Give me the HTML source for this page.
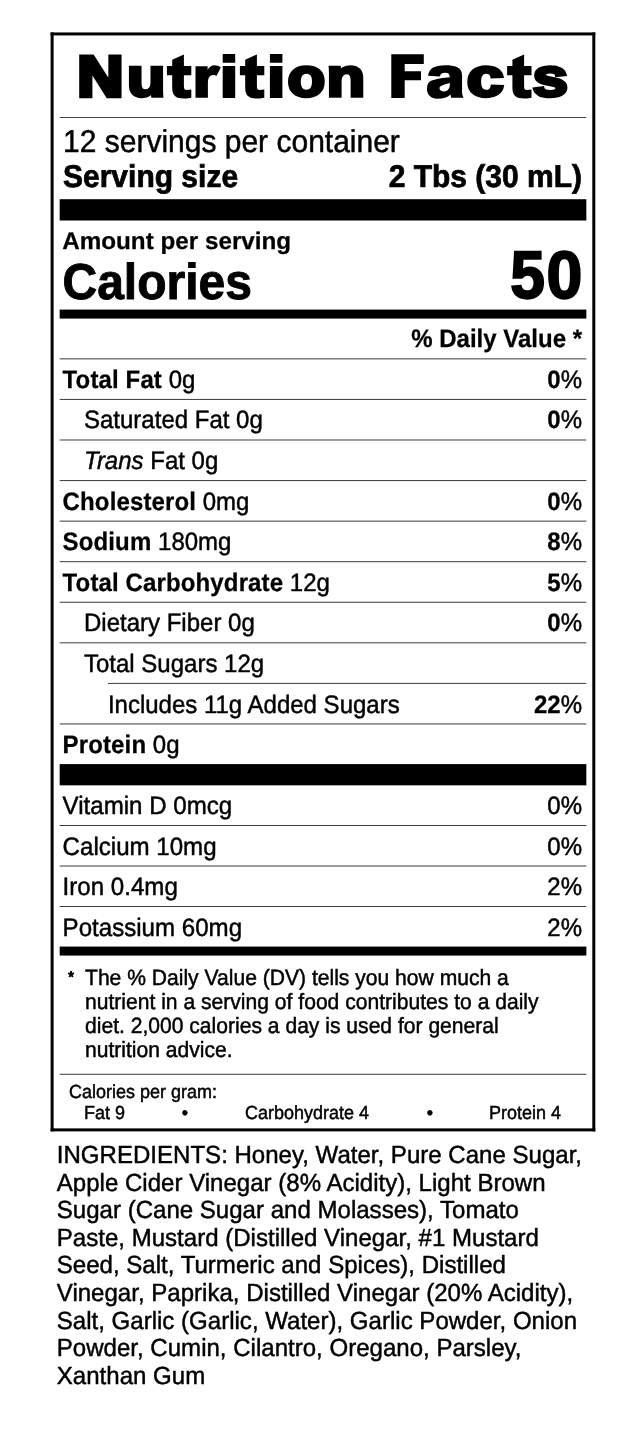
<!DOCTYPE html>
<html><head><meta charset="utf-8"><style>
html,body{margin:0;padding:0;background:#fff;width:638px;height:1448px;overflow:hidden}
svg{display:block;will-change:transform}
text{font-family:"Liberation Sans",sans-serif;fill:#000;text-rendering:geometricPrecision}
.b{stroke:#000;stroke-width:0.45px}
.b[font-weight=bold],.b tspan[font-weight=bold]{stroke-width:0.25px}
.title{stroke:#000;stroke-width:3.4px;stroke-linejoin:miter}
</style></head><body>
<svg width="638" height="1448" viewBox="0 0 638 1448">
<rect x="50.6" y="32.44" width="544.6999999999999" height="3" fill="#000"/>
<rect x="50.6" y="1128.38" width="544.6999999999999" height="3" fill="#000"/>
<rect x="50.6" y="32.44" width="3" height="1098.94" fill="#000"/>
<rect x="592.3" y="32.44" width="3" height="1098.94" fill="#000"/>
<text transform="translate(77.42,0) scale(1.1141,1)" x="0" y="96.0" font-size="56.9" font-weight="bold" class="title" style="stroke-width:4.6px">N</text><text transform="translate(126.88,0) scale(1.1668,1)" x="0" y="96.0" font-size="54.0" font-weight="bold" class="title" style="stroke-width:3.4px">u</text><path transform="translate(166.90,0)" d="M5.3,59.7 L17.0,54.4 L17.0,66 L24.4,66 L24.4,75.3 L17.0,75.3 L17.0,86.5 C17.0,89.3 17.8,89.9 19.8,89.9 L24.4,89.4 L24.4,97.7 C22.5,98.2 20.5,98.5 17.5,98.5 C8.5,98.5 5.3,95.5 5.3,87.5 L5.3,75.3 L0,75.3 L0,66 L5.3,66 Z"/><path d="M195.5,66.3 L207.6,66.3 L207.6,69.8 C209.5,66.8 211.5,65.3 214.5,65.3 C217,65.3 219,66 220.8,67.5 L216.6,75.8 C215.5,75.2 214.5,75 213.3,75 C209.5,75 207.9,78 207.9,83 L207.9,97.75 L195.5,97.75 Z"/><path d="M222.70,54.1 L235.20,54.1 L235.20,62.8 L222.70,62.8 Z M222.70,66.1 L235.20,66.1 L235.20,97.9 L222.70,97.9 Z"/><path transform="translate(239.90,0)" d="M5.3,59.7 L17.0,54.4 L17.0,66 L24.4,66 L24.4,75.3 L17.0,75.3 L17.0,86.5 C17.0,89.3 17.8,89.9 19.8,89.9 L24.4,89.4 L24.4,97.7 C22.5,98.2 20.5,98.5 17.5,98.5 C8.5,98.5 5.3,95.5 5.3,87.5 L5.3,75.3 L0,75.3 L0,66 L5.3,66 Z"/><path d="M269.90,54.1 L282.40,54.1 L282.40,62.8 L269.90,62.8 Z M269.90,66.1 L282.40,66.1 L282.40,97.9 L269.90,97.9 Z"/><text transform="translate(287.44,0) scale(1.1435,1)" x="0" y="96.0" font-size="54.0" font-weight="bold" class="title" style="stroke-width:3.4px">o</text><text transform="translate(326.51,0) scale(1.1736,1)" x="0" y="96.0" font-size="54.0" font-weight="bold" class="title" style="stroke-width:3.4px">n</text><path d="M391.3,54.2 L423.8,54.2 L423.8,64.1 L404.7,64.1 L404.7,71.2 L421,71.2 L421,80.3 L404.7,80.3 L404.7,97.9 L391.3,97.9 Z"/><path fill-rule="evenodd" d="M427.95,75.80 L439.80,76.46 C440.46,73.96 442.43,72.84 445.07,72.84 C448.36,72.84 449.81,74.15 449.81,77.25 C443.75,77.64 435.19,79.09 430.58,81.07 C427.95,82.38 426.96,85.67 426.96,88.97 C426.96,94.89 431.24,98.71 437.17,98.71 C443.09,98.71 447.70,97.52 450.46,94.56 L451.12,97.85 L463.63,97.85 C462.51,95.88 462.05,94.23 462.05,91.60 L462.05,75.14 C462.05,67.24 454.94,65.13 445.07,65.13 C434.53,65.13 428.61,68.56 428.08,75.80 Z M449.81,83.04 C445.07,84.49 439.47,85.67 439.47,88.31 C439.47,90.28 441.45,91.47 443.75,91.47 C447.70,91.47 449.81,88.31 449.81,85.02 Z"/><text transform="translate(466.70,0) scale(1.2335,1)" x="0" y="96.0" font-size="54.0" font-weight="bold" class="title" style="stroke-width:3.4px">c</text><path transform="translate(507.10,0)" d="M5.3,59.7 L17.0,54.4 L17.0,66 L24.4,66 L24.4,75.3 L17.0,75.3 L17.0,86.5 C17.0,89.3 17.8,89.9 19.8,89.9 L24.4,89.4 L24.4,97.7 C22.5,98.2 20.5,98.5 17.5,98.5 C8.5,98.5 5.3,95.5 5.3,87.5 L5.3,75.3 L0,75.3 L0,66 L5.3,66 Z"/><text transform="translate(532.48,0) scale(1.1835,1)" x="0" y="96.0" font-size="54.0" font-weight="bold" class="title" style="stroke-width:3.4px">s</text>
<rect x="59.67" y="117" width="526.6800000000001" height="1" fill="#444"/>
<text x="63" y="152" font-size="30" transform="matrix(1.0,0,0,1.05,0.000,-7.600)" class="b">12 servings per container</text>
<text x="63" y="187" font-size="30" font-weight="bold" transform="matrix(1.0,0,0,1.05,0.000,-9.350)" style="stroke-width:0.7px" class="b">Serving size</text>
<text x="582" y="187" font-size="30" text-anchor="end" font-weight="bold" transform="matrix(1.0,0,0,1.05,0.000,-9.350)" style="stroke-width:0.7px" class="b">2 Tbs (30 mL)</text>
<rect x="59.67" y="199.22" width="526.6800000000001" height="21.28" fill="#000"/>
<text x="62.2" y="249" font-size="24" font-weight="bold" transform="matrix(1.01,0,0,1.0,-0.622,0.000)" class="b">Amount per serving</text>
<text x="62.5" y="299" font-size="48" font-weight="bold" transform="matrix(1.0,0,0,1.05,0.000,-14.950)" style="stroke-width:0.9px" class="b">Calories</text>
<text x="510.3" y="298.4" font-size="67.1" font-weight="bold" transform="matrix(0.93,0,0,1.0,35.721,0.000)" style="stroke-width:1.94px" class="b">5</text>
<text x="546.4" y="298.4" font-size="67.1" font-weight="bold" transform="matrix(0.962,0,0,1.0,20.763,0.000)" style="stroke-width:1.94px" class="b">0</text>
<rect x="59.67" y="309.57" width="526.6800000000001" height="9.0" fill="#000"/>
<text x="582" y="347" font-size="24" text-anchor="end" font-weight="bold" transform="matrix(1.0,0,0,1.05,0.000,-17.350)" class="b">% Daily Value *</text>
<rect x="59.67" y="358.37" width="526.6800000000001" height="1" fill="#3c3c3c"/>
<text x="62.6" y="387.9" font-size="24" transform="matrix(1.0,0,0,1.05,0.000,-19.395)" class="b"><tspan font-weight="bold" letter-spacing="0.13">Total Fat</tspan> 0g</text>
<text x="582" y="387.9" font-size="24" text-anchor="end" transform="matrix(1.0,0,0,1.05,0.000,-19.395)" class="b"><tspan font-weight="bold">0</tspan>%</text>
<rect x="59.67" y="398.934" width="526.6800000000001" height="1" fill="#3c3c3c"/>
<text x="84" y="428.49" font-size="24" transform="matrix(1.0,0,0,1.05,0.000,-21.425)" class="b">Saturated Fat 0g</text>
<text x="582" y="428.49" font-size="24" text-anchor="end" transform="matrix(1.0,0,0,1.05,0.000,-21.425)" class="b"><tspan font-weight="bold">0</tspan>%</text>
<rect x="59.67" y="439.498" width="526.6800000000001" height="1" fill="#3c3c3c"/>
<text x="84" y="469.08" font-size="24" transform="matrix(1.0,0,0,1.05,0.000,-23.454)" class="b"><tspan font-style="italic">Trans</tspan> Fat 0g</text>
<rect x="59.67" y="480.062" width="526.6800000000001" height="1" fill="#3c3c3c"/>
<text x="62.6" y="509.67" font-size="24" transform="matrix(1.0,0,0,1.05,0.000,-25.484)" class="b"><tspan font-weight="bold" letter-spacing="0.13">Cholesterol</tspan> 0mg</text>
<text x="582" y="509.67" font-size="24" text-anchor="end" transform="matrix(1.0,0,0,1.05,0.000,-25.484)" class="b"><tspan font-weight="bold">0</tspan>%</text>
<rect x="59.67" y="520.626" width="526.6800000000001" height="1" fill="#3c3c3c"/>
<text x="62.6" y="550.26" font-size="24" transform="matrix(1.0,0,0,1.05,0.000,-27.513)" class="b"><tspan font-weight="bold" letter-spacing="0.13">Sodium</tspan> 180mg</text>
<text x="582" y="550.26" font-size="24" text-anchor="end" transform="matrix(1.0,0,0,1.05,0.000,-27.513)" class="b"><tspan font-weight="bold">8</tspan>%</text>
<rect x="59.67" y="561.19" width="526.6800000000001" height="1" fill="#3c3c3c"/>
<text x="62.6" y="590.85" font-size="24" transform="matrix(1.0,0,0,1.05,0.000,-29.543)" class="b"><tspan font-weight="bold" letter-spacing="0.13">Total Carbohydrate</tspan> 12g</text>
<text x="582" y="590.85" font-size="24" text-anchor="end" transform="matrix(1.0,0,0,1.05,0.000,-29.543)" class="b"><tspan font-weight="bold">5</tspan>%</text>
<rect x="59.67" y="601.754" width="526.6800000000001" height="1" fill="#3c3c3c"/>
<text x="84" y="631.44" font-size="24" transform="matrix(1.0,0,0,1.05,0.000,-31.572)" class="b">Dietary Fiber 0g</text>
<text x="582" y="631.44" font-size="24" text-anchor="end" transform="matrix(1.0,0,0,1.05,0.000,-31.572)" class="b"><tspan font-weight="bold">0</tspan>%</text>
<rect x="59.67" y="642.318" width="526.6800000000001" height="1" fill="#3c3c3c"/>
<text x="84" y="672.03" font-size="24" transform="matrix(1.0,0,0,1.05,0.000,-33.602)" class="b">Total Sugars 12g</text>
<rect x="108" y="682.882" width="478.35" height="1" fill="#3c3c3c"/>
<text x="107.9" y="712.62" font-size="24" transform="matrix(1.0,0,0,1.05,0.000,-35.631)" class="b">Includes 11g Added Sugars</text>
<text x="582" y="712.62" font-size="24" text-anchor="end" transform="matrix(1.0,0,0,1.05,0.000,-35.631)" class="b"><tspan font-weight="bold">22</tspan>%</text>
<rect x="59.67" y="723.446" width="526.6800000000001" height="1" fill="#3c3c3c"/>
<text x="62.6" y="753.21" font-size="24" transform="matrix(1.0,0,0,1.05,0.000,-37.661)" class="b"><tspan font-weight="bold" letter-spacing="0.13">Protein</tspan> 0g</text>
<rect x="59.67" y="764.1" width="526.6800000000001" height="21.24" fill="#000"/>
<text x="62.6" y="814" font-size="24" transform="matrix(1.004,0,0,1.05,-0.250,-40.700)" class="b">Vitamin D 0mcg</text>
<text x="582" y="814" font-size="24" text-anchor="end" transform="matrix(1.0,0,0,1.05,0.000,-40.700)" class="b">0%</text>
<rect x="59.67" y="825.0" width="526.6800000000001" height="1" fill="#3c3c3c"/>
<text x="62.6" y="855" font-size="24" transform="matrix(1.004,0,0,1.05,-0.250,-42.750)" class="b">Calcium 10mg</text>
<text x="582" y="855" font-size="24" text-anchor="end" transform="matrix(1.0,0,0,1.05,0.000,-42.750)" class="b">0%</text>
<rect x="59.67" y="865.5" width="526.6800000000001" height="1" fill="#3c3c3c"/>
<text x="62.6" y="895" font-size="24" transform="matrix(1.004,0,0,1.05,-0.250,-44.750)" class="b">Iron 0.4mg</text>
<text x="582" y="895" font-size="24" text-anchor="end" transform="matrix(1.0,0,0,1.05,0.000,-44.750)" class="b">2%</text>
<rect x="59.67" y="906.0" width="526.6800000000001" height="1" fill="#3c3c3c"/>
<text x="62.6" y="936" font-size="24" transform="matrix(1.004,0,0,1.05,-0.250,-46.800)" class="b">Potassium 60mg</text>
<text x="582" y="936" font-size="24" text-anchor="end" transform="matrix(1.0,0,0,1.05,0.000,-46.800)" class="b">2%</text>
<rect x="59.67" y="946.57" width="526.6800000000001" height="9.0" fill="#000"/>
<text x="68.2" y="981.8" font-size="14.5" transform="matrix(1.0,0,0,1.05,0.000,-49.090)" style="stroke-width:0.9px" class="b">*</text>
<text x="85" y="985.0" font-size="21" transform="matrix(1.004,0,0,1.05,-0.340,-49.250)" class="b">The % Daily Value (DV) tells you how much a</text>
<text x="85" y="1008.9" font-size="21" transform="matrix(1.004,0,0,1.05,-0.340,-50.445)" class="b">nutrient in a serving of food contributes to a daily</text>
<text x="85" y="1032.8" font-size="21" transform="matrix(1.004,0,0,1.05,-0.340,-51.640)" class="b">diet. 2,000 calories a day is used for general</text>
<text x="85" y="1056.7" font-size="21" transform="matrix(1.004,0,0,1.05,-0.340,-52.835)" class="b">nutrition advice.</text>
<rect x="59.67" y="1073.78" width="526.6800000000001" height="1" fill="#3c3c3c"/>
<text x="69" y="1098" font-size="18" transform="matrix(1.0,0,0,1.05,0.000,-54.900)" class="b">Calories per gram:</text>
<text x="84" y="1119" font-size="18" transform="matrix(1.0,0,0,1.05,0.000,-55.950)" class="b">Fat 9</text>
<text x="185" y="1119" font-size="18" text-anchor="middle" transform="matrix(1.0,0,0,1.05,0.000,-55.950)" class="b">•</text>
<text x="245" y="1119" font-size="18" transform="matrix(1.0,0,0,1.05,0.000,-55.950)" class="b">Carbohydrate 4</text>
<text x="430" y="1119" font-size="18" text-anchor="middle" transform="matrix(1.0,0,0,1.05,0.000,-55.950)" class="b">•</text>
<text x="561" y="1119" font-size="18" text-anchor="end" transform="matrix(1.0,0,0,1.05,0.000,-55.950)" class="b">Protein 4</text>
<text x="56.8" y="1162.9" font-size="24" transform="matrix(1.002,0,0,1.03,-0.114,-34.887)" class="b">INGREDIENTS: Honey, Water, Pure Cane Sugar,</text>
<text x="56.8" y="1190.52" font-size="24" transform="matrix(1.002,0,0,1.03,-0.114,-35.716)" class="b">Apple Cider Vinegar (8% Acidity), Light Brown</text>
<text x="56.8" y="1218.14" font-size="24" transform="matrix(1.002,0,0,1.03,-0.114,-36.544)" class="b">Sugar (Cane Sugar and Molasses), Tomato</text>
<text x="56.8" y="1245.76" font-size="24" transform="matrix(1.002,0,0,1.03,-0.114,-37.373)" class="b">Paste, Mustard (Distilled Vinegar, #1 Mustard</text>
<text x="56.8" y="1273.38" font-size="24" transform="matrix(1.002,0,0,1.03,-0.114,-38.201)" class="b">Seed, Salt, Turmeric and Spices), Distilled</text>
<text x="56.8" y="1301.0" font-size="24" transform="matrix(1.002,0,0,1.03,-0.114,-39.030)" class="b">Vinegar, Paprika, Distilled Vinegar (20% Acidity),</text>
<text x="56.8" y="1328.62" font-size="24" transform="matrix(1.002,0,0,1.03,-0.114,-39.859)" class="b">Salt, Garlic (Garlic, Water), Garlic Powder, Onion</text>
<text x="56.8" y="1356.24" font-size="24" transform="matrix(1.002,0,0,1.03,-0.114,-40.687)" class="b">Powder, Cumin, Cilantro, Oregano, Parsley,</text>
<text x="56.8" y="1383.86" font-size="24" transform="matrix(1.002,0,0,1.03,-0.114,-41.516)" class="b">Xanthan Gum</text>
</svg>
</body></html>
